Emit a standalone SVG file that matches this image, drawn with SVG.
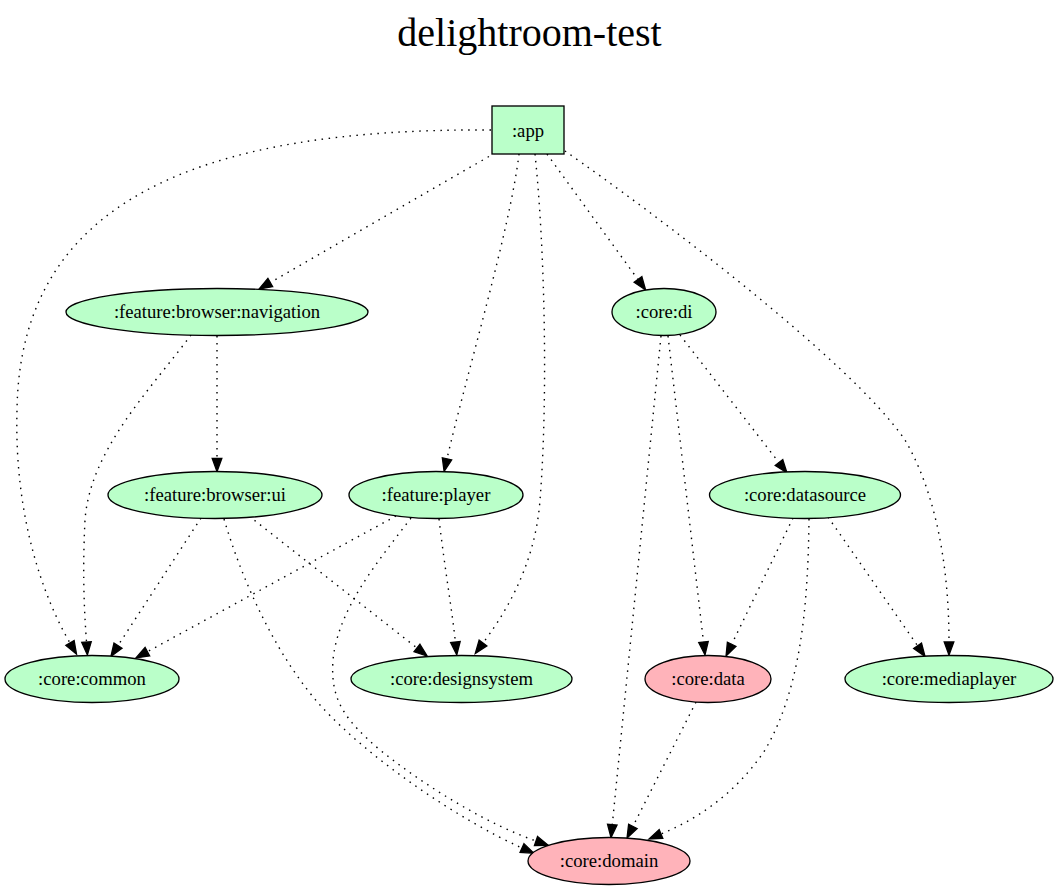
<svg xmlns="http://www.w3.org/2000/svg" width="1059" height="890" viewBox="0 0 1059 890">
<style>
.t{font-family:"Liberation Serif","Times New Roman",serif;fill:#000;text-anchor:middle}
.n{font-size:18.67px}
.g{fill:#baffc9;stroke:#000;stroke-width:1.33}
.p{fill:#ffb3ba;stroke:#000;stroke-width:1.33}
.e{fill:none;stroke:#000;stroke-width:1.4;stroke-dasharray:1.5,5.5;marker-end:url(#arr)}
</style>
<defs>
<marker id="arr" markerUnits="userSpaceOnUse" markerWidth="16" markerHeight="12" refX="0" refY="4.8" orient="auto" overflow="visible">
<path d="M0,0 L13,4.8 L0,9.6 z" fill="#000" stroke="#000" stroke-width="1.3"/>
</marker>
</defs>
<rect width="1059" height="890" fill="#fff"/>
<text class="t" x="529.5" y="46" font-size="40">delightroom-test</text>
<g id="edges">
<path class="e" d="M491,130 C200,128 20,200 17,410 C14,520 45,600 70,643"/>
<path class="e" d="M495,153 L270.3,282.5"/>
<path class="e" d="M519,154 C510,230 465,380 447,458.8"/>
<path class="e" d="M535,154 C545,250 548,400 540,500 C535,570 500,620 483,643"/>
<path class="e" d="M547,154 L638,279.5"/>
<path class="e" d="M565,151 C650,210 850,360 905,440 C940,500 949,580 949,642"/>
<path class="e" d="M191,335 C150,390 90,450 85,520 C82,580 85,620 86.5,642"/>
<path class="e" d="M217,336 L217,458.5"/>
<path class="e" d="M201,518 L118,645.6"/>
<path class="e" d="M224,519 C245,590 280,660 320,705 C370,760 460,820 522,848"/>
<path class="e" d="M249,516 L417,648"/>
<path class="e" d="M396,516 L147.4,651.7"/>
<path class="e" d="M411,518 C375,565 338,610 333,660 C330,700 345,720 380,750 C430,790 490,825 536,841"/>
<path class="e" d="M439,519 C445,570 452,610 455.4,642"/>
<path class="e" d="M661,336 L612.3,824.6"/>
<path class="e" d="M668,336 L703.5,642"/>
<path class="e" d="M680,335 L779,462.6"/>
<path class="e" d="M793,518 L731.7,644.3"/>
<path class="e" d="M809,519 C808,610 800,690 765,750 C735,795 695,820 661,834"/>
<path class="e" d="M828,517 L917.6,645.8"/>
<path class="e" d="M696,702 L632.9,826.4"/>
</g>
<g id="app"><rect class="g" x="492" y="106" width="72" height="48"/><text class="t n" x="528" y="137">:app</text></g>
<g id="feature-browser-navigation"><ellipse class="g" cx="217" cy="312" rx="151" ry="23.5"/><text class="t n" x="217" y="318">:feature:browser:navigation</text></g>
<g id="core-di"><ellipse class="g" cx="664" cy="312" rx="52" ry="23.5"/><text class="t n" x="664" y="318">:core:di</text></g>
<g id="feature-browser-ui"><ellipse class="g" cx="215" cy="495" rx="107" ry="23.5"/><text class="t n" x="215" y="501">:feature:browser:ui</text></g>
<g id="feature-player"><ellipse class="g" cx="436" cy="495" rx="87" ry="23.5"/><text class="t n" x="436" y="501">:feature:player</text></g>
<g id="core-datasource"><ellipse class="g" cx="805" cy="495" rx="95.5" ry="23.5"/><text class="t n" x="805" y="501">:core:datasource</text></g>
<g id="core-common"><ellipse class="g" cx="92" cy="679" rx="87" ry="23.5"/><text class="t n" x="92" y="685">:core:common</text></g>
<g id="core-designsystem"><ellipse class="g" cx="461.5" cy="679" rx="110.5" ry="23.5"/><text class="t n" x="461.5" y="685">:core:designsystem</text></g>
<g id="core-data"><ellipse class="p" cx="708" cy="679" rx="63" ry="23.5"/><text class="t n" x="708" y="685">:core:data</text></g>
<g id="core-mediaplayer"><ellipse class="g" cx="949" cy="679" rx="104" ry="23.5"/><text class="t n" x="949" y="685">:core:mediaplayer</text></g>
<g id="core-domain"><ellipse class="p" cx="609" cy="861" rx="81" ry="23.5"/><text class="t n" x="609" y="867">:core:domain</text></g>
</svg>
